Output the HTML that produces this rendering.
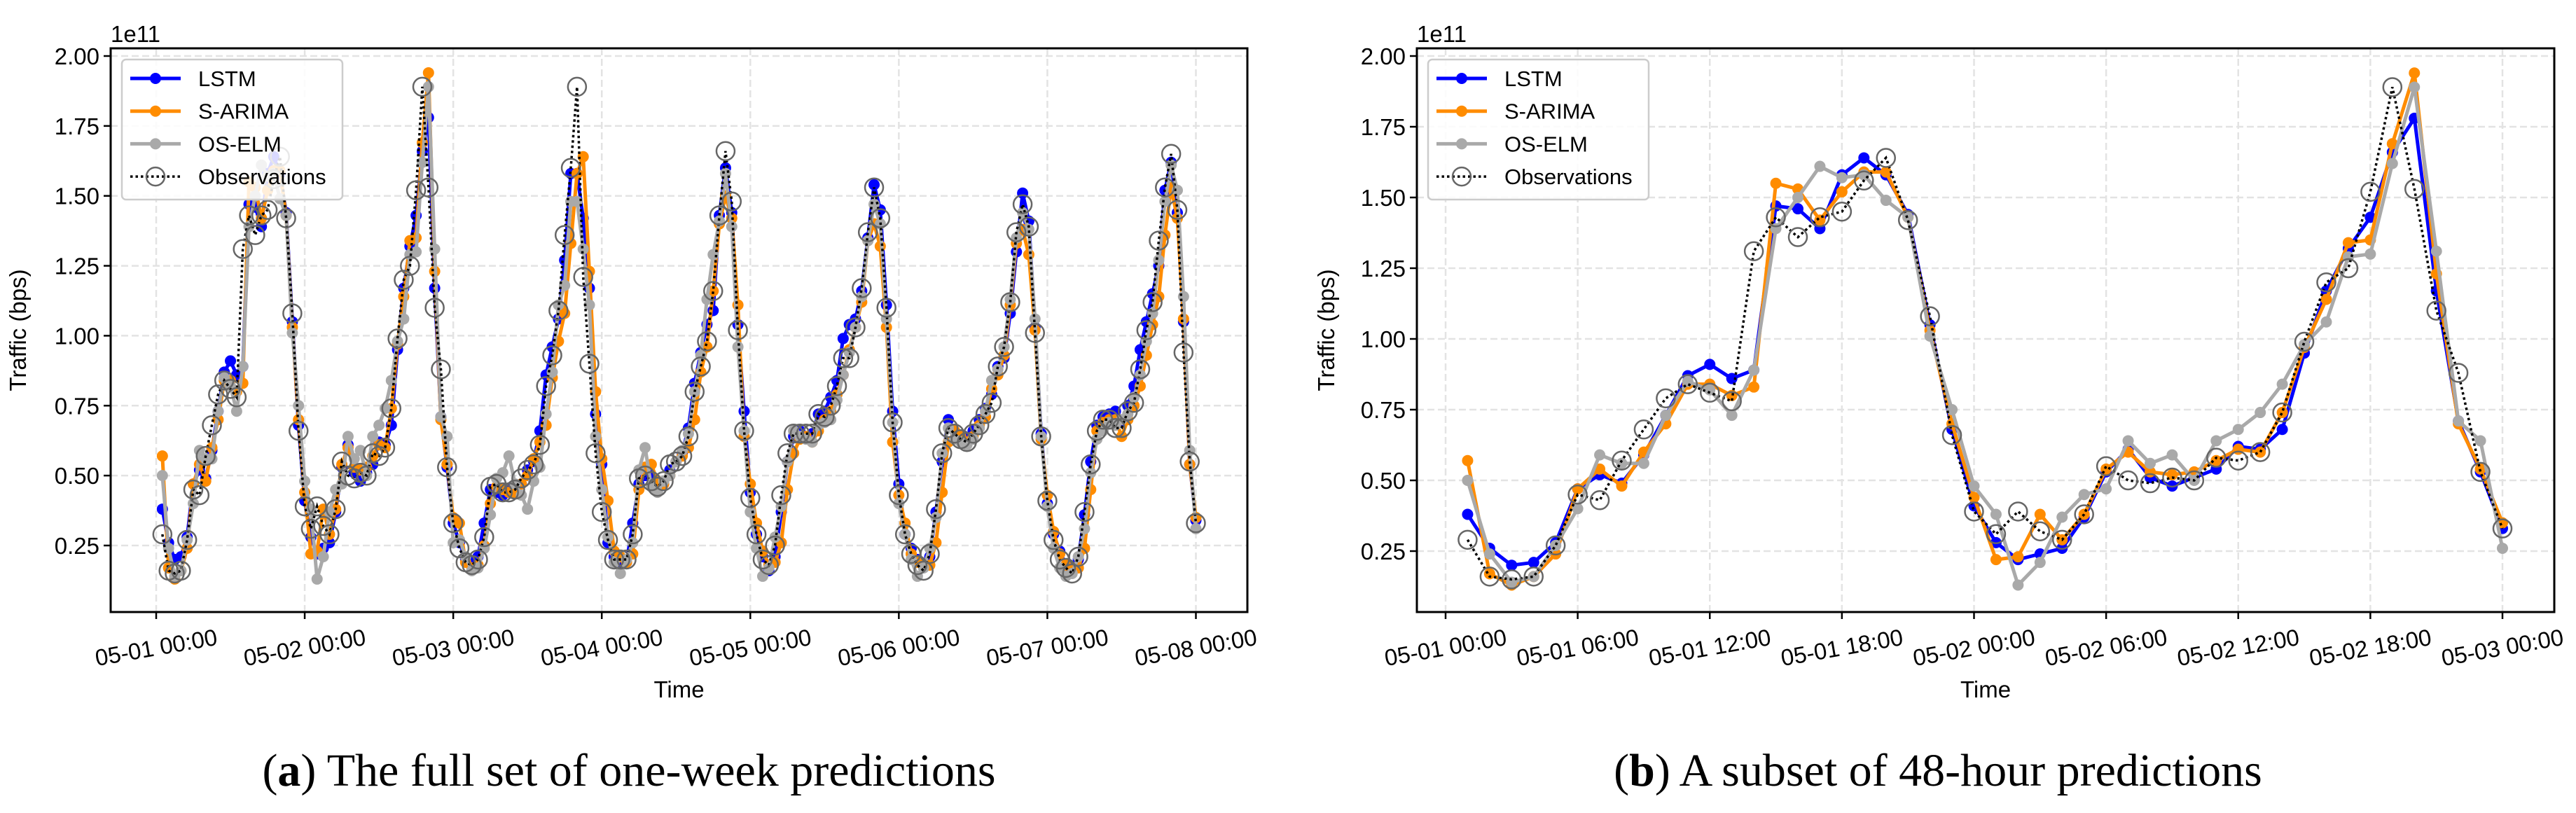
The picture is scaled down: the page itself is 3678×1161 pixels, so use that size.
<!DOCTYPE html>
<html><head><meta charset="utf-8"><style>
html,body{margin:0;padding:0;background:#fff;}
svg{display:block;}
text{font-family:"Liberation Sans",sans-serif;}
</style></head>
<body>
<svg id="root" width="3678" height="1161" viewBox="0 0 3678 1161" xmlns="http://www.w3.org/2000/svg">
<g id="chartA"></g>
<g id="chartB"></g>
<text x="898" y="1122" font-size="66" text-anchor="middle" style="font-family:'Liberation Serif',serif">(<tspan font-weight="bold">a</tspan>) The full set of one-week predictions</text>
<text x="2767" y="1122" font-size="66" text-anchor="middle" style="font-family:'Liberation Serif',serif">(<tspan font-weight="bold">b</tspan>) A subset of 48-hour predictions</text>
</svg>
<script>
const obsVals = [.29,.16,.15,.16,.27,.45,.43,.57,.68,.79,.84,.81,.78,1.31,1.43,1.36,1.43,1.45,1.56,1.64,1.42,1.08,.66,.39,
.31,.39,.32,.29,.38,.55,.50,.49,.51,.50,.58,.57,.60,.74,.99,1.20,1.25,1.52,1.89,1.53,1.10,.88,.53,.33,
.24,.19,.18,.20,.28,.46,.47,.44,.44,.45,.49,.52,.54,.61,.82,.93,1.09,1.36,1.60,1.89,1.21,.90,.58,.37,
.27,.20,.20,.20,.29,.49,.50,.48,.46,.48,.54,.55,.57,.64,.80,.89,.98,1.16,1.43,1.66,1.48,1.02,.66,.42,
.29,.20,.18,.25,.43,.58,.65,.65,.65,.65,.72,.71,.75,.82,.92,.92,1.03,1.17,1.37,1.53,1.42,1.10,.69,.43,
.29,.22,.18,.16,.22,.38,.58,.67,.65,.63,.62,.65,.68,.72,.76,.89,.96,1.12,1.37,1.47,1.39,1.01,.64,.41,
.27,.20,.17,.15,.21,.37,.54,.66,.70,.70,.67,.67,.73,.76,.88,1.02,1.12,1.34,1.53,1.65,1.45,.94,.55,.33];
const lstmVals = [.38,.26,.20,.21,.28,.47,.52,.49,.59,.73,.87,.91,.86,.89,1.47,1.46,1.39,1.58,1.64,1.58,1.44,1.05,.68,.41,
.28,.22,.24,.26,.37,.53,.61,.51,.48,.51,.54,.62,.61,.68,.95,1.17,1.32,1.43,1.66,1.78,1.17,.71,.53,.33,
.26,.20,.19,.21,.33,.45,.44,.43,.45,.44,.47,.52,.55,.66,.86,.96,1.06,1.27,1.58,1.58,1.42,1.17,.72,.54,
.26,.21,.19,.19,.33,.47,.50,.50,.46,.47,.52,.55,.58,.67,.83,.94,1.04,1.09,1.43,1.60,1.44,1.04,.73,.44,
.29,.21,.16,.21,.37,.55,.64,.66,.64,.65,.72,.73,.78,.84,.99,1.04,1.06,1.16,1.35,1.54,1.45,1.11,.73,.47,
.29,.24,.20,.18,.21,.37,.55,.70,.66,.64,.63,.66,.70,.74,.79,.89,.92,1.08,1.30,1.51,1.41,1.03,.65,.40,
.29,.23,.18,.16,.20,.36,.55,.68,.71,.72,.73,.69,.75,.82,.95,1.05,1.15,1.25,1.52,1.62,1.44,1.05,.54,.34];
const arimaVals = [.57,.17,.13,.16,.24,.47,.54,.48,.60,.70,.84,.84,.80,.83,1.55,1.53,1.42,1.52,1.59,1.59,1.43,1.03,.70,.44,
.22,.23,.38,.29,.38,.54,.60,.53,.52,.53,.57,.61,.60,.74,.97,1.14,1.34,1.35,1.69,1.94,1.23,.70,.54,.35,
.33,.19,.17,.18,.25,.40,.46,.45,.44,.44,.47,.50,.56,.62,.68,.85,.98,1.08,1.33,1.58,1.64,1.23,.80,.56,
.41,.23,.21,.19,.22,.45,.53,.54,.48,.47,.50,.55,.57,.60,.70,.87,.96,1.16,1.40,1.50,1.42,1.11,.64,.47,
.33,.23,.18,.19,.26,.45,.58,.63,.64,.62,.66,.70,.73,.79,.86,.95,1.03,1.12,1.34,1.40,1.32,1.03,.62,.43,
.33,.22,.19,.18,.18,.26,.44,.62,.66,.64,.62,.64,.68,.71,.81,.86,.93,1.11,1.33,1.38,1.29,1.02,.63,.43,
.30,.22,.18,.17,.17,.24,.45,.66,.69,.70,.70,.64,.70,.75,.82,.93,1.04,1.14,1.36,1.53,1.42,1.06,.54,.35];
const elmVals = [.50,.24,.14,.16,.27,.40,.59,.56,.56,.73,.85,.82,.73,.89,1.39,1.50,1.61,1.57,1.58,1.49,1.43,1.01,.75,.48,
.38,.13,.21,.37,.45,.47,.64,.56,.59,.50,.64,.68,.74,.84,.98,1.06,1.29,1.30,1.62,1.89,1.31,.71,.64,.26,
.27,.21,.16,.17,.24,.36,.49,.51,.57,.47,.43,.38,.48,.53,.72,.87,1.11,1.18,1.48,1.48,1.31,1.11,.64,.45,
.28,.19,.15,.20,.26,.52,.60,.46,.44,.48,.50,.55,.59,.65,.80,.93,1.13,1.29,1.41,1.58,1.39,.96,.66,.37,
.24,.14,.17,.28,.39,.55,.66,.64,.63,.62,.68,.69,.70,.77,.86,.94,1.03,1.14,1.34,1.47,1.40,1.06,.69,.40,
.29,.20,.14,.17,.24,.35,.58,.67,.63,.62,.61,.63,.67,.73,.84,.88,.96,1.13,1.35,1.44,1.38,1.06,.64,.39,
.24,.17,.14,.15,.21,.31,.51,.63,.66,.69,.68,.70,.72,.78,.86,.98,1.08,1.27,1.48,1.61,1.52,1.14,.59,.31];
const yTicks = [0.25,0.50,0.75,1.00,1.25,1.50,1.75,2.00];
const xTicksA = ["05-01 00:00","05-02 00:00","05-03 00:00","05-04 00:00","05-05 00:00","05-06 00:00","05-07 00:00","05-08 00:00"];
const xTicksB = ["05-01 00:00","05-01 06:00","05-01 12:00","05-01 18:00","05-02 00:00","05-02 06:00","05-02 12:00","05-02 18:00","05-03 00:00"];
const seriesNames = ["LSTM","S-ARIMA","OS-ELM"];
const seriesColors = ["#0000ff","#ff8c00","#a9a9a9"];

const NS="http://www.w3.org/2000/svg";
function mk(parent, tag, attrs){const e=document.createElementNS(NS,tag);for(const k in attrs)e.setAttribute(k,attrs[k]);parent.appendChild(e);return e;}

function drawChart(g, cfg){
  const {L,R,T,B,x0px,hourPx,y2,y025,nHours,ticks,tickStep,labelX} = cfg;
  const ppu=(y025-y2)/1.75;
  const X=h=>x0px+h*hourPx;
  const Y=v=>y2+(2.0-v)*ppu;
  yTicks.forEach(v=>{const l=mk(g,'line',{x1:L,x2:R,y1:Y(v),y2:Y(v),stroke:'#e3e3e3','stroke-width':2.5,'stroke-dasharray':'10,5'});
    });
  ticks.forEach((t,i)=>{const x=X(i*tickStep);const l=mk(g,'line',{x1:x,x2:x,y1:T,y2:B,stroke:'#e3e3e3','stroke-width':2.5,'stroke-dasharray':'10,5'});
    });
  const data=[lstmVals,arimaVals,elmVals];
  data.forEach((arr,si)=>{
    const vals=arr.slice(0,nHours);
    const pts=vals.map((v,i)=>X(i+1).toFixed(1)+','+Y(v).toFixed(1)).join(' ');
    const pl=mk(g,'polyline',{points:pts,fill:'none',stroke:seriesColors[si],'stroke-width':5,'stroke-linejoin':'round'});
    
    
    vals.forEach((v,i)=>{const c=mk(g,'circle',{cx:X(i+1),cy:Y(v),r:8,fill:seriesColors[si]});
      
      });
  });
  const ov=obsVals.slice(0,nHours);
  const op=mk(g,'polyline',{points:ov.map((v,i)=>X(i+1).toFixed(1)+','+Y(v).toFixed(1)).join(' '),fill:'none',stroke:'#000','stroke-width':3.5,'stroke-dasharray':'3.5,4'});
  
  
  ov.forEach((v,i)=>{const c=mk(g,'circle',{cx:X(i+1),cy:Y(v),r:13,fill:'none',stroke:'#666','stroke-width':2.5});
    
    });
  const fr=mk(g,'rect',{x:L,y:T,width:R-L,height:B-T,fill:'none',stroke:'#000','stroke-width':3});
  
  
  yTicks.forEach(v=>{const y=Y(v);mk(g,'line',{x1:L-10,x2:L,y1:y,y2:y,stroke:'#000','stroke-width':2.5});
    const t=mk(g,'text',{x:L-16,y:y+12,'font-size':33,'text-anchor':'end'});t.textContent=v.toFixed(2);
    });
  ticks.forEach((lab,i)=>{const x=X(i*tickStep);mk(g,'line',{x1:x,x2:x,y1:B,y2:B+10,stroke:'#000','stroke-width':2.5});
    const t=mk(g,'text',{x:x,y:936,'font-size':33,'text-anchor':'middle',transform:`rotate(-10 ${x} 925)`});t.textContent=lab;
    });
  const e=mk(g,'text',{x:L,y:60,'font-size':33});e.textContent='1e11';
  
  const xl=mk(g,'text',{x:(L+R)/2,y:996,'font-size':33,'text-anchor':'middle'});xl.textContent='Time';
  
  const yl=mk(g,'text',{x:labelX,y:(T+B)/2,'font-size':33,'text-anchor':'middle',transform:`rotate(-90 ${labelX} ${(T+B)/2})`});yl.textContent='Traffic (bps)';
  
  const lx=L+16, ly=85;
  const lg=mk(g,'g',{});
  
  mk(lg,'rect',{x:lx,y:ly,width:315,height:200,rx:6,fill:'#fff','fill-opacity':0.85,stroke:'#ccc','stroke-width':2.5});
  const names=seriesNames.concat(['Observations']);
  names.forEach((n,i)=>{const yy=ly+27+i*46.7;
    if(i<3){mk(lg,'line',{x1:lx+12,x2:lx+84,y1:yy,y2:yy,stroke:seriesColors[i],'stroke-width':5});
      mk(lg,'circle',{cx:lx+48,cy:yy,r:8,fill:seriesColors[i]});}
    else{mk(lg,'line',{x1:lx+12,x2:lx+84,y1:yy,y2:yy,stroke:'#000','stroke-width':3.5,'stroke-dasharray':'3.5,4'});
      mk(lg,'circle',{cx:lx+48,cy:yy,r:13,fill:'none',stroke:'#666','stroke-width':2.5});}
    const t=mk(lg,'text',{x:lx+109,y:yy+11,'font-size':31});t.textContent=n;
    });
}
drawChart(document.getElementById('chartA'),{L:158,R:1781,T:69,B:874,x0px:223,hourPx:(1707.5-223)/168,y2:80,y025:779,nHours:168,ticks:xTicksA,tickStep:24,labelX:37});
drawChart(document.getElementById('chartB'),{L:2023,R:3647,T:69,B:874,x0px:2064,hourPx:(3573-2064)/48,y2:80,y025:787,nHours:48,ticks:xTicksB,tickStep:6,labelX:1905});
</script>
</body></html>
